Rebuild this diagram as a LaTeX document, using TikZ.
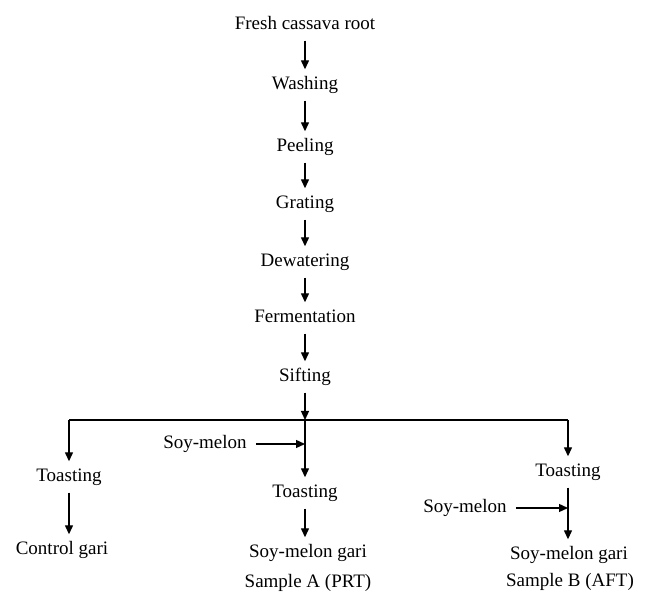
\documentclass[tikz,border=0pt]{standalone}
\usepackage{fontspec}
\setmainfont{Liberation Serif}
\usetikzlibrary{arrows.meta}
\begin{document}
\begin{tikzpicture}[x=1pt,y=-1pt,
  lbl/.style={font=\fontsize{19}{23}\selectfont, text height=13pt, text depth=4pt, inner xsep=9pt, inner ysep=7pt, anchor=center},
  arr/.style={-{Triangle[length=9pt,width=8pt]}, line width=1.3pt},
  ln/.style={line width=1.3pt}]
\useasboundingbox (0,0) rectangle (649,593);
\node[lbl] (fresh) at (305,25) {Fresh cassava root};
\node[lbl] (wash) at (305,85) {Washing};
\node[lbl] (peel) at (305,147) {Peeling};
\node[lbl] (grat) at (305,204) {Grating};
\node[lbl] (dew) at (305,262) {Dewatering};
\node[lbl] (ferm) at (305,318) {Fermentation};
\node[lbl] (sift) at (305,377) {Sifting};
\draw[arr] (fresh) -- (wash);
\draw[arr] (wash) -- (peel);
\draw[arr] (peel) -- (grat);
\draw[arr] (grat) -- (dew);
\draw[arr] (dew) -- (ferm);
\draw[arr] (ferm) -- (sift);
\coordinate (j) at (305,420);
\coordinate (jl) at (69,420);
\coordinate (jr) at (568,420);
\draw[arr] (sift) -- (j);
\draw[ln] (jl) -- (jr);
% left branch
\node[lbl] (lt) at (69,477) {Toasting};
\node[lbl] (cg) at (62,550) {Control gari};
\draw[arr] (jl) -- (lt);
\draw[arr] (lt.south) -- (lt.south |- cg.north);
% middle branch
\node[lbl] (sm1) at (205,444) {Soy-melon};
\node[lbl] (mt) at (305,493) {Toasting};
\node[lbl] (smga) at (308,553) {Soy-melon gari};
\node[lbl] (sa) at (308,583) {Sample A (PRT)};
\draw[arr] (j) -- (mt);
\draw[arr] (sm1) -- (sm1 -| j);
\draw[arr] (mt.south) -- (mt.south |- smga.north);
% right branch
\node[lbl] (rt) at (568,472) {Toasting};
\node[lbl] (sm2) at (465,508) {Soy-melon};
\node[lbl] (smgb) at (569,555) {Soy-melon gari};
\node[lbl] (sb) at (570,582) {Sample B (AFT)};
\draw[arr] (jr) -- (rt);
\draw[arr] (rt.south) -- (rt.south |- smgb.north);
\draw[arr] (sm2) -- (sm2 -| rt);
\end{tikzpicture}
\end{document}
